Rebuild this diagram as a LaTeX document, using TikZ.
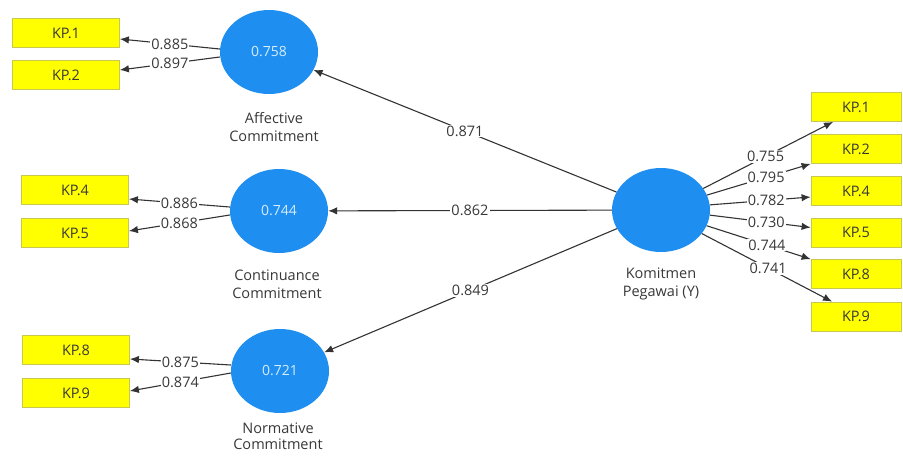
\documentclass[tikz,border=0pt]{standalone}
\usepackage{fontspec}
\setmainfont{Open Sans}
\usetikzlibrary{shapes.geometric,arrows.meta}
\definecolor{lvblue}{HTML}{1E8FF0}
\definecolor{mvyellow}{HTML}{FFFF00}
\definecolor{mvborder}{HTML}{C8C850}
\definecolor{linegray}{HTML}{333333}
\definecolor{txtgray}{HTML}{383838}
\definecolor{lvtext}{HTML}{D6ECFF}
\begin{document}
\begin{tikzpicture}[x=1pt,y=-1pt,
  latent/.style={ellipse, fill=lvblue, draw=none, minimum width=98pt, minimum height=84pt, inner sep=0pt, text=lvtext, font=\fontsize{14}{16}\selectfont},
  manif/.style={rectangle, fill=mvyellow, draw=mvborder, line width=0.8pt, minimum height=29pt, inner sep=0pt, text=txtgray, font=\fontsize{14.5}{16}\selectfont},
  lbox/.style={manif, minimum width=107pt},
  rbox/.style={manif, minimum width=90pt},
  caption/.style={align=center, inner sep=0pt, text=txtgray, font=\fontsize{14.5}{18}\selectfont},
  conn/.style={draw=linegray, line width=1.1pt, -{Latex[length=9pt,width=7.5pt]}},
  wt/.style={fill=white, inner sep=1pt, text=txtgray, font=\fontsize{14.5}{16}\selectfont},
]
\useasboundingbox[fill=white] (0,0) rectangle (903,456);

% latent variables
\node[latent] (aff) at (269,52) {0.758};
\node[latent] (con) at (279,211) {0.744};
\node[latent] (nor) at (280,371) {0.721};
\node[latent] (kom) at (661,210) {};

% captions
\node[caption] (affcap) at (274,127) {Affective\\Commitment};
\node[caption] (concap) at (277,284) {Continuance\\Commitment};
\node[caption, font=\fontsize{14.5}{16}\selectfont] (norcap) at (278,436) {Normative\\Commitment};
\node[caption] (komcap) at (661,284) {Komitmen\\Pegawai (Y)};

% left indicators
\node[lbox] (a1) at (66,33) {KP.1};
\node[lbox] (a2) at (66,75) {KP.2};
\node[lbox] (c4) at (75,190) {KP.4};
\node[lbox] (c5) at (75,233) {KP.5};
\node[lbox] (n8) at (76,350) {KP.8};
\node[lbox] (n9) at (76,393) {KP.9};

% right indicators
\node[rbox] (r1) at (856,107) {KP.1};
\node[rbox] (r2) at (856,149) {KP.2};
\node[rbox] (r4) at (856,191) {KP.4};
\node[rbox] (r5) at (856,232.5) {KP.5};
\node[rbox] (r8) at (856,274) {KP.8};
\node[rbox] (r9) at (856,316.5) {KP.9};

% left loadings
\draw[conn] ([yshift=3pt]aff.west) -- node[wt]{0.885} ([yshift=-6pt]a1.east);
\draw[conn] ([yshift=-5pt]aff.west) -- node[wt]{0.897} ([yshift=5pt]a2.east);
\draw[conn] ([yshift=4pt]con.west) -- node[wt]{0.886} ([yshift=-9pt]c4.east);
\draw[conn] ([yshift=-4pt]con.west) -- node[wt]{0.868} ([yshift=2pt]c5.east);
\draw[conn] ([yshift=6pt]nor.west) -- node[wt]{0.875} ([yshift=-9pt]n8.east);
\draw[conn] ([yshift=-2pt]nor.west) -- node[wt]{0.874} ([yshift=2pt]n9.east);

% right loadings
\draw[conn] (kom.27) -- node[wt,pos=0.48]{0.755} ([xshift=-23pt]r1.south);
\draw[conn] (kom.18) -- node[wt,pos=0.57]{0.795} (r2.south west);
\draw[conn] (kom.6) -- node[wt,pos=0.56]{0.782} ([yshift=-6pt]r4.west);
\draw[conn] (kom.-6) -- node[wt,pos=0.56]{0.730} ([yshift=5pt]r5.west);
\draw[conn] (kom.-19) -- node[wt,pos=0.58]{0.744} (r8.north west);
\draw[conn] (kom.-30) -- node[wt,pos=0.51]{0.741} ([xshift=-24pt]r9.north);

% structural paths
\draw[conn] (kom) -- node[wt]{0.871} (aff);
\draw[conn] (kom) -- node[wt]{0.862} (con);
\draw[conn] (kom) -- node[wt]{0.849} (nor);
\end{tikzpicture}
\end{document}
